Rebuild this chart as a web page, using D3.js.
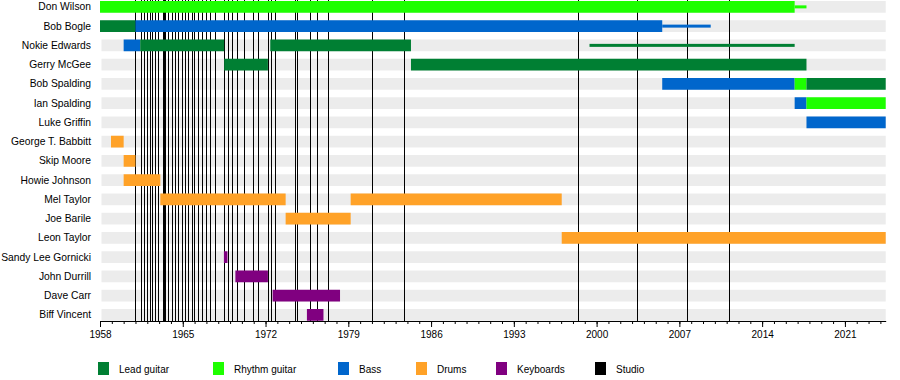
<!DOCTYPE html>
<html><head><meta charset="utf-8">
<script src="https://cdn.jsdelivr.net/npm/d3@7"></script>
<style>
html,body{margin:0;padding:0;background:#fff;}
svg{display:block;font-family:"Liberation Sans",Arial,sans-serif;}
</style></head>
<body><svg id="c" width="900" height="380"></svg>
<script>
// ---- data ----
const members = ["Don Wilson","Bob Bogle","Nokie Edwards","Gerry McGee","Bob Spalding","Ian Spalding","Luke Griffin","George T. Babbitt","Skip Moore","Howie Johnson","Mel Taylor","Joe Barile","Leon Taylor","Sandy Lee Gornicki","John Durrill","Dave Carr","Biff Vincent"];
const roles = ["Lead guitar","Rhythm guitar","Bass","Drums","Keyboards","Studio"];
const periodStart = 1958, periodEnd = 2024.45;
// [member, role, start, end]
const bars = [
  ["Don Wilson","Rhythm guitar",1958,2016.75],
  ["Bob Bogle","Lead guitar",1958,1961.0],
  ["Bob Bogle","Bass",1961.0,2005.55],
  ["Nokie Edwards","Bass",1960.0,1961.4],
  ["Nokie Edwards","Lead guitar",1961.4,1968.5],
  ["Nokie Edwards","Lead guitar",1972.4,1984.3],
  ["Gerry McGee","Lead guitar",1968.5,1972.2],
  ["Gerry McGee","Lead guitar",1984.3,2017.75],
  ["Bob Spalding","Bass",2005.55,2016.75],
  ["Bob Spalding","Rhythm guitar",2016.75,2017.75],
  ["Bob Spalding","Lead guitar",2017.75,periodEnd],
  ["Ian Spalding","Bass",2016.75,2017.75],
  ["Ian Spalding","Rhythm guitar",2017.75,periodEnd],
  ["Luke Griffin","Bass",2017.75,periodEnd],
  ["George T. Babbitt","Drums",1958.93,1960.0],
  ["Skip Moore","Drums",1960.0,1961.0],
  ["Howie Johnson","Drums",1960.0,1963.1],
  ["Mel Taylor","Drums",1963.1,1973.7],
  ["Mel Taylor","Drums",1979.2,1997.05],
  ["Joe Barile","Drums",1973.7,1979.2],
  ["Leon Taylor","Drums",1997.05,periodEnd],
  ["Sandy Lee Gornicki","Keyboards",1968.48,1968.78],
  ["John Durrill","Keyboards",1969.45,1972.2],
  ["Dave Carr","Keyboards",1972.6,1978.3],
  ["Biff Vincent","Keyboards",1975.5,1976.9]
];
// thin bars (partial / occasional membership)
const thinBars = [
  ["Don Wilson","Rhythm guitar",2016.75,2017.75],
  ["Bob Bogle","Bass",2005.55,2009.65],
  ["Nokie Edwards","Lead guitar",1999.4,2016.75]
];
// studio album release dates
const studio = [1961.0,1961.44,1961.72,1961.97,1962.19,1962.42,1962.65,1962.9,1963.32,1963.4,1963.49,1963.75,1964.05,1964.34,1964.56,1964.93,1965.19,1965.44,1965.78,1965.97,1966.31,1966.59,1966.96,1967.3,1967.73,1968.49,1968.85,1969.18,1969.55,1970.18,1970.9,1971.38,1972.21,1972.44,1972.84,1974.45,1974.68,1975.78,1976.37,1977.3,1981.03,1983.73,1998.44,2003.45,2007.67,2011.22];
const majorTicks = [1958,1965,1972,1979,1986,1993,2000,2007,2014,2021];
const minorTicks = d3.range(1958,2025);

// ---- style ----
const colors = {"Lead guitar":"#007f33","Rhythm guitar":"#1eff00","Bass":"#0066cc","Drums":"#ffa228","Keyboards":"#800080","Studio":"#000000"};
const legendX = [98,213,338,416,496,595];

const svg = d3.select("#c");
const x = d3.scaleLinear().domain([periodStart, periodEnd]).range([100, 885.7]);
const y = d3.scaleBand().domain(members).range([1, 320.75]).paddingInner(0.39).paddingOuter(0).align(0);
const axisY = 321;

// stripes
svg.append("g").selectAll("rect").data(members).join("rect")
  .attr("x", x(periodStart)+1.5).attr("width", x(periodEnd)-x(periodStart)-1.5)
  .attr("y", d=>y(d)).attr("height", y.bandwidth()).attr("fill","#ececec");

// studio lines
svg.append("g").selectAll("line").data(studio).join("line")
  .attr("x1", d=>Math.round(x(d))+0.5).attr("x2", d=>Math.round(x(d))+0.5)
  .attr("y1", 0).attr("y2", axisY)
  .attr("stroke","#000").attr("stroke-width",1);

// bars
svg.append("g").selectAll("rect").data(bars).join("rect")
  .attr("x", d=>x(d[2])).attr("width", d=>x(d[3])-x(d[2]))
  .attr("y", d=>y(d[0])).attr("height", y.bandwidth())
  .attr("fill", d=>colors[d[1]]);

svg.append("g").selectAll("rect").data(thinBars).join("rect")
  .attr("x", d=>x(d[2])).attr("width", d=>x(d[3])-x(d[2]))
  .attr("y", d=>y(d[0])+y.bandwidth()/2-1.5).attr("height", 3)
  .attr("fill", d=>colors[d[1]]);

// names
svg.append("g").selectAll("text").data(members).join("text")
  .attr("x", 91).attr("y", d=>y(d)+y.bandwidth()/2).attr("dy","0.35em")
  .attr("text-anchor","end").attr("font-size","10.3px").attr("fill","#000")
  .text(d=>d);

// axes
const gMinor = svg.append("g").attr("transform",`translate(0,${axisY})`)
  .call(d3.axisBottom(x).tickValues(minorTicks).tickSize(3).tickFormat(""));
gMinor.select(".domain").remove();
const gMajor = svg.append("g").attr("transform",`translate(0,${axisY})`)
  .call(d3.axisBottom(x).tickValues(majorTicks).tickSize(6).tickSizeOuter(0).tickPadding(4).tickFormat(d3.format("d")));
gMajor.selectAll("text").attr("font-size","10px").attr("font-family","Liberation Sans, Arial, sans-serif").attr("fill","#000");
svg.selectAll(".domain, .tick line").attr("stroke","#000");

// legend
const lg = svg.append("g").selectAll("g").data(roles).join("g")
  .attr("transform",(d,i)=>`translate(${legendX[i]},362)`);
lg.append("rect").attr("width",11).attr("height",13).attr("fill",d=>colors[d]);
lg.append("text").attr("x",21).attr("y",7).attr("dy","0.35em").attr("font-size","10px").text(d=>d);
</script></body></html>
